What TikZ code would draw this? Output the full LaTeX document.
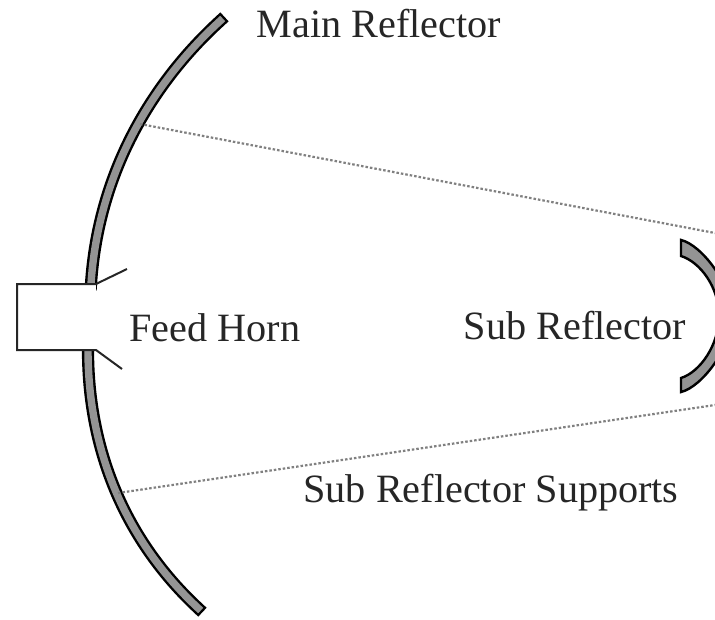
\documentclass[tikz,border=0pt]{standalone}
\usepackage{fontspec}
\setmainfont{Liberation Serif}
\definecolor{dishgray}{gray}{0.58}
\tikzset{
    dish/.style={line width=2.4pt, double=dishgray, double distance=7.4pt, line cap=rect},
    subdish/.style={draw=black, line width=2.4pt, fill=dishgray},
    strut/.style={dash pattern=on 2.5pt off 2pt, line width=2.2pt, black!50},
    horn/.style={line width=2pt, black!85},
    lab/.style={font=\fontsize{40.2}{43}\selectfont, text=black!85, inner sep=0pt}
}
\begin{document}
\begin{tikzpicture}[x=1pt,y=-1pt]
\useasboundingbox (0,0) rectangle (715,619);
\clip (0,0) rectangle (715,619);

\coordinate (DishTop) at (220,21);
\coordinate (DishUp) at (91,284);
\coordinate (DishLow) at (88,350);
\coordinate (DishBottom) at (198,608);
\coordinate (SubA) at (681,240);
\coordinate (SubB) at (681,256);
\coordinate (SubC) at (681,378);
\coordinate (SubD) at (681,392);

\draw[dish] (DishTop) .. controls (150,85) and (98,175) .. (DishUp);
\draw[dish] (DishLow) .. controls (88,450) and (125,540) .. (DishBottom);

\draw[subdish] (SubA) .. controls (702,245) and (732,285) .. (732,316)
    .. controls (732,347) and (702,387) .. (SubD) -- (SubC)
    .. controls (700,372) and (719,345) .. (719,316)
    .. controls (719,287) and (700,262) .. (SubB) -- cycle;

\coordinate (StrutTopA) at (140,124);
\coordinate (StrutTopB) at (715,233);
\coordinate (StrutLowA) at (118,493);
\coordinate (StrutLowB) at (715,405);
\draw[strut] (StrutTopA) -- (StrutTopB);
\draw[strut] (StrutLowA) -- (StrutLowB);

\coordinate (HornA) at (96,284);
\coordinate (HornB) at (17,284);
\coordinate (HornC) at (17,350);
\coordinate (HornD) at (96,350);
\coordinate (FlareA) at (127,269);
\coordinate (FlareD) at (122,369);
\fill[white] (HornA) -- (HornB) -- (HornC) -- (HornD) -- cycle;
\draw[horn] (FlareA) -- (HornA) -- (HornB) -- (HornC) -- (HornD) -- (FlareD);

\node[lab] (MainLabel) at (379,24) {Main Reflector};
\node[lab] (FeedLabel) at (215,328) {Feed Horn};
\node[lab] (SubLabel) at (575,326) {Sub Reflector};
\node[lab] (SupportLabel) at (491,493) {Sub Reflector Supports};
\end{tikzpicture}
\end{document}
